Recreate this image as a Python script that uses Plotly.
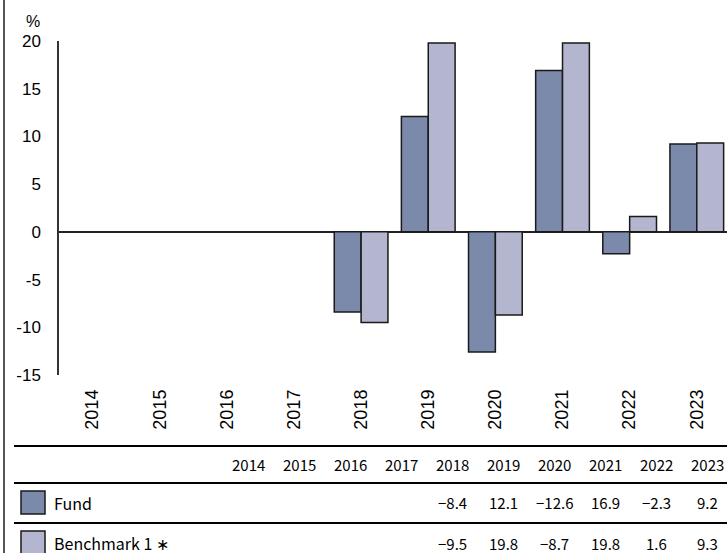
import plotly.graph_objects as go

years = ["2014", "2015", "2016", "2017", "2018", "2019", "2020", "2021", "2022", "2023"]
fund = [None, None, None, None, -8.4, 12.1, -12.6, 16.9, -2.3, 9.2]
bench = [None, None, None, None, -9.5, 19.8, -8.7, 19.8, 1.6, 9.3]
series_names = ["Fund", "Benchmark 1 \u2217"]
y_ticks = [-15, -10, -5, 0, 5, 10, 15, 20]

FUND_COLOR = "#7B89AB"
BENCH_COLOR = "#B4B6CF"
EDGE = "#1a1a1a"

W, H = 727, 553
L, R, T, B = 59, 0, 41, 178
PW, PH = W - L - R, H - T - B

def py(pix):  # pixel y -> paper y
    return (H - B - pix) / PH

def px(pix):  # pixel x -> paper x
    return (pix - L) / PW

fig = go.Figure()
fig.add_trace(go.Bar(x=years, y=fund, name=series_names[0],
                     marker=dict(color=FUND_COLOR, line=dict(color=EDGE, width=1.5))))
fig.add_trace(go.Bar(x=years, y=bench, name=series_names[1],
                     marker=dict(color=BENCH_COLOR, line=dict(color=EDGE, width=1.5))))

# table column positions via hidden axis
col0, colstep = 248, 51.0
r0 = (L - col0) / colstep
r1 = (W - R - col0) / colstep

def fmt(v):
    if v is None:
        return ""
    s = f"{abs(v):.1f}"
    return ("\u2212" + s) if v < 0 else s

TFONT = dict(family="Noto Sans CJK JP", size=15, color="black")
LFONT = dict(family="Noto Sans CJK JP", size=16, color="black")
ann = []
ann.append(dict(text="%", x=px(33), y=py(22), xref="paper", yref="paper",
                xanchor="center", yanchor="middle",
                showarrow=False, font=dict(family="Liberation Sans, Arial", size=16, color="black")))
for i, yr in enumerate(years):
    ann.append(dict(text=yr, x=i, y=py(464), xref="x2", yref="paper", showarrow=False,
                    xanchor="center", yanchor="middle", font=TFONT))
    ann.append(dict(text=fmt(fund[i]), x=i, y=py(503), xref="x2", yref="paper", showarrow=False,
                    xanchor="center", yanchor="middle", font=TFONT))
    ann.append(dict(text=fmt(bench[i]), x=i, y=py(543), xref="x2", yref="paper", showarrow=False,
                    xanchor="center", yanchor="middle", font=TFONT))
ann.append(dict(text=series_names[0], x=px(52), y=py(503), xref="paper", yref="paper",
                showarrow=False, xanchor="left", yanchor="middle", font=LFONT))
ann.append(dict(text=series_names[1], x=px(52), y=py(543), xref="paper", yref="paper",
                showarrow=False, xanchor="left", yanchor="middle", font=LFONT))

shapes = []
# outer left border
shapes.append(dict(type="line", xref="paper", yref="paper", x0=px(4), x1=px(4),
                   y0=py(-2), y1=py(H + 2), line=dict(color="#555555", width=2)))
# table lines
for yy in [446, 483, 523]:
    shapes.append(dict(type="line", xref="paper", yref="paper", x0=px(14), x1=px(W + 5),
                       y0=py(yy), y1=py(yy), line=dict(color="black", width=2)))
# legend squares
shapes.append(dict(type="rect", xref="paper", yref="paper", x0=px(21), x1=px(45),
                   y0=py(491), y1=py(514), fillcolor=FUND_COLOR, line=dict(color=EDGE, width=1.5)))
shapes.append(dict(type="rect", xref="paper", yref="paper", x0=px(21), x1=px(45),
                   y0=py(531), y1=py(555), fillcolor=BENCH_COLOR, line=dict(color=EDGE, width=1.5)))

fig.update_layout(
    width=W, height=H,
    margin=dict(l=L, r=R, t=T, b=B, pad=0),
    paper_bgcolor="white", plot_bgcolor="white",
    showlegend=False,
    barmode="group", bargap=0.2, bargroupgap=0,
    font=dict(family="Liberation Sans, Arial", size=16, color="black"),
    xaxis=dict(type="category", range=[-0.5, 9.45], showgrid=False, showline=False,
               ticks="", tickangle=-90, tickfont=dict(size=18), ticklabelstandoff=10,
               zeroline=False),
    xaxis2=dict(overlaying="x", range=[r0, r1], visible=False, showgrid=False, zeroline=False),
    yaxis=dict(range=[-15, 20], tickvals=y_ticks, ticktext=[str(v) for v in y_ticks],
               showgrid=False, showline=True, linecolor="#333333", linewidth=1.5,
               ticks="", tickfont=dict(size=17), ticklabelstandoff=13,
               zeroline=True, zerolinecolor="#222222", zerolinewidth=1.5),
    annotations=ann,
    shapes=shapes,
)

fig.write_html("out.html", config={"displayModeBar": False},
               post_script="document.body.style.margin='0';document.body.style.overflow='hidden';")
